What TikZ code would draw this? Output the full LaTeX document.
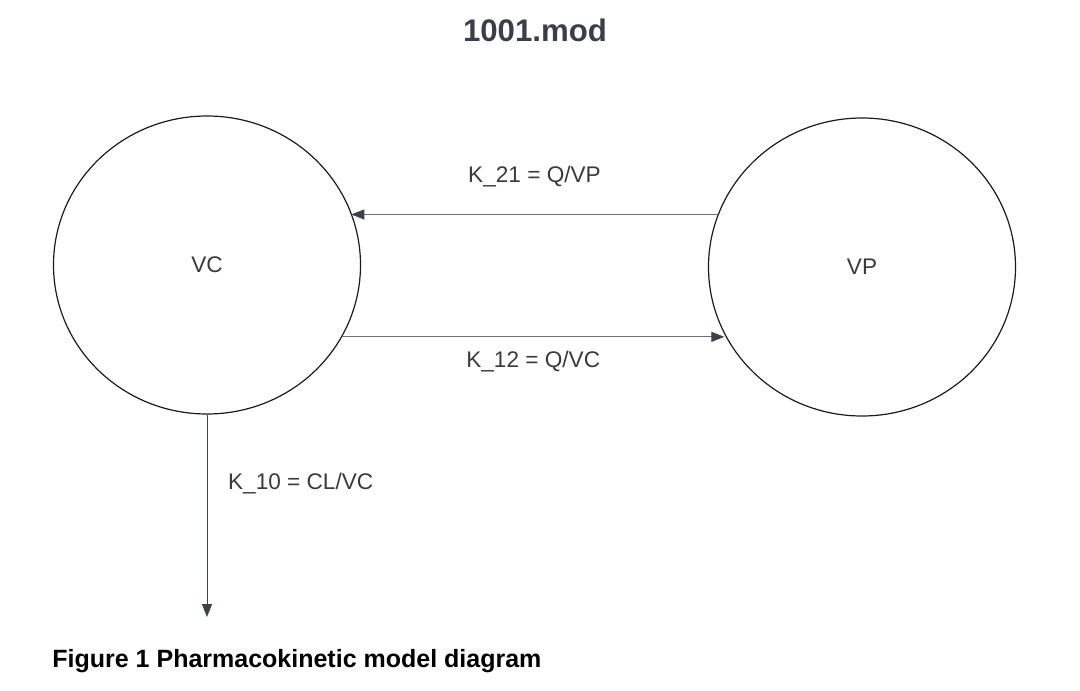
\documentclass[tikz,border=0pt]{standalone}
\usepackage{fontspec}
\setmainfont{Liberation Sans}
\usetikzlibrary{arrows.meta,positioning,shapes.geometric}
\definecolor{ink}{HTML}{1B1B1B}
\definecolor{textgray}{HTML}{3A3A3A}
\definecolor{titlegray}{HTML}{3A3F47}
\definecolor{shaftgray}{HTML}{6E7075}
\definecolor{headgray}{HTML}{3C4048}
\tikzset{
  every node/.style={font=\fontsize{11.3}{13}\selectfont, text=textgray},
  compartment/.style={ellipse, draw=ink, line width=0.6pt, minimum width=153.5pt, minimum height=149pt},
  flow/.style={-{Triangle[length=6.5pt,width=5pt,color=headgray]}, line width=0.5pt, draw=shaftgray},
  outflow/.style={flow, draw=headgray},
  ratelabel/.style={font=\fontsize{11.3}{13}\selectfont, text=textgray},
  title/.style={font=\fontsize{15.6}{18}\selectfont\bfseries, text=titlegray},
  caption/.style={font=\fontsize{12.5}{15}\selectfont\bfseries, text=black, anchor=west, inner sep=0pt},
}
\begin{document}
\begin{tikzpicture}[x=0.5pt, y=-0.5pt]
\useasboundingbox (0,0) rectangle (1080,690);
\node[title] (ttl) at (535,30) {1001.mod};
\node[compartment] (vc) at (207,265) {VC};
\node[compartment] (vp) at (862,267) {VP};
\coordinate (elim) at (207,617);
\draw[flow] (vp.160) -- (vp.160 -| vc.20) node[midway, ratelabel, yshift=19pt] (k21) {K\_21 = Q/VP};
\draw[flow] (vc.-28.5) -- (vc.-28.5 -| vp.206) node[midway, ratelabel, yshift=-12.5pt] (k12) {K\_12 = Q/VC};
\draw[outflow] (vc.south) -- (elim) node[pos=0.343, ratelabel, right=7pt] (k10) {K\_10 = CL/VC};
\node[caption] (cap) at (52,661) {Figure 1 Pharmacokinetic model diagram};
\end{tikzpicture}
\end{document}
